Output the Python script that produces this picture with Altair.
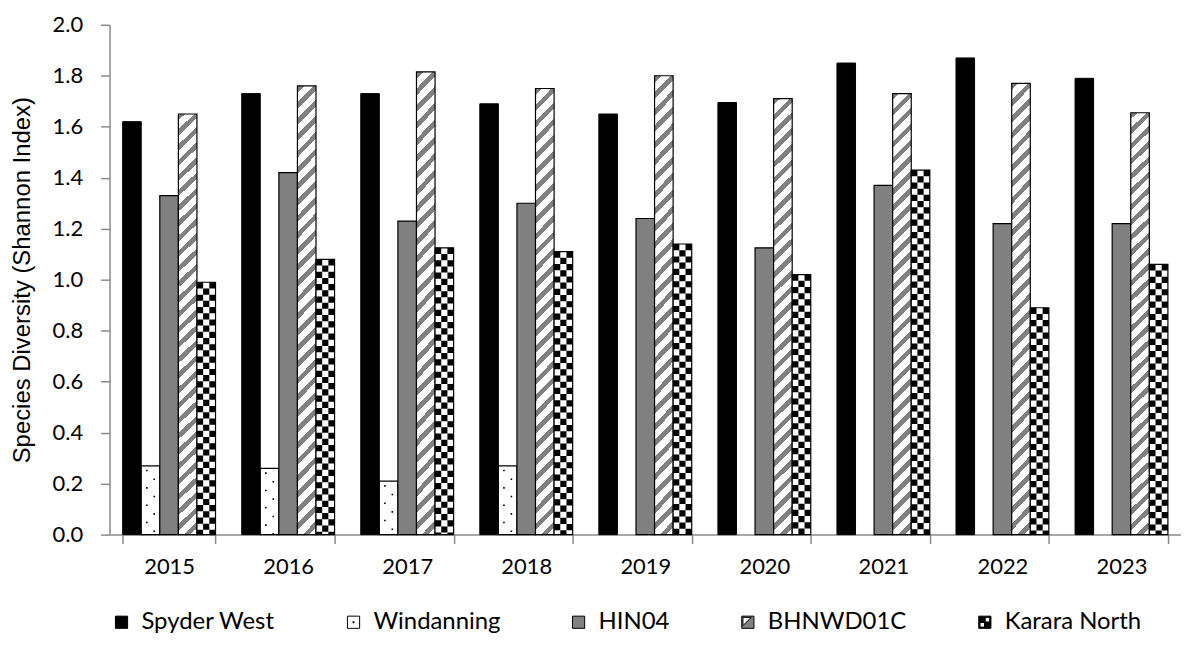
import altair as alt
import pandas as pd

years = ["2015", "2016", "2017", "2018", "2019", "2020", "2021", "2022", "2023"]
series = ["Spyder West", "Windanning", "HIN04", "BHNWD01C", "Karara North"]
spyder_west = [1.62, 1.73, 1.73, 1.69, 1.65, 1.695, 1.85, 1.87, 1.79]
windanning = [0.27, 0.26, 0.21, 0.27, None, None, None, None, None]
hin04 = [1.33, 1.42, 1.23, 1.30, 1.24, 1.125, 1.37, 1.22, 1.22]
bhnwd01c = [1.65, 1.76, 1.815, 1.75, 1.80, 1.71, 1.73, 1.77, 1.655]
karara_north = [0.99, 1.08, 1.125, 1.11, 1.14, 1.02, 1.43, 0.89, 1.06]
y_ticks = [0.0, 0.2, 0.4, 0.6, 0.8, 1.0, 1.2, 1.4, 1.6, 1.8, 2.0]

values_by_series = [spyder_west, windanning, hin04, bhnwd01c, karara_north]
rows = []
for name, vals in zip(series, values_by_series):
    for yr, v in zip(years, vals):
        if v is not None:
            rows.append({"year": yr, "series": name, "value": v})
df = pd.DataFrame(rows)

W, H = 1076, 512
PAD_IN = 0.22
step = W / len(years)
bar_w = step * (1 - PAD_IN) / len(series)

GRAY = "#808080"
AXIS_GRAY = "#8a8a8a"
TICK_FONT = "Lato"
LEG_FONT = "Lato"

# diagonal stripe gradient (style only)
h_typ = 1.73 * H / 2.0
c = (bar_w + h_typ) / (bar_w ** 2 + h_typ ** 2)
period = 16.0
n_per = (bar_w + h_typ) / period
stops = []
k = 0
while k / n_per < 1:
    a = k / n_per
    b = min((k + 0.42) / n_per, 1)
    e = min((k + 1) / n_per, 1)
    stops.append(alt.GradientStop(offset=a, color=GRAY))
    stops.append(alt.GradientStop(offset=b, color=GRAY))
    if b < 1:
        stops.append(alt.GradientStop(offset=b, color="white"))
        stops.append(alt.GradientStop(offset=e, color="white"))
    k += 1
stripe = alt.LinearGradient(gradient="linear", stops=stops, x1=0, y1=0,
                            x2=c * bar_w, y2=c * h_typ)

base = alt.Chart(df).encode(
    x=alt.X("year:N", sort=years,
            scale=alt.Scale(paddingInner=PAD_IN, paddingOuter=PAD_IN / 2),
            axis=alt.Axis(title=None, labelAngle=0, tickBand="extent",
                          labelFont=TICK_FONT, labelFontSize=22, labelColor="black",
                          labelPadding=13, tickSize=9, tickColor=AXIS_GRAY,
                          domainColor=AXIS_GRAY, domainWidth=1.5, tickWidth=1.5)),
    xOffset=alt.XOffset("series:N", sort=series,
                        scale=alt.Scale(domain=series, paddingInner=0, paddingOuter=0)),
    y=alt.Y("value:Q", scale=alt.Scale(domain=[0, 2]),
            axis=alt.Axis(values=y_ticks, format=".1f", grid=False,
                          title="Species Diversity (Shannon Index)",
                          titleFont="Liberation Sans", titleFontSize=24,
                          titleFontWeight="normal", titleColor="black",
                          titlePadding=18,
                          labelFont=TICK_FONT, labelFontSize=22, labelColor="black",
                          labelPadding=18, tickSize=9, tickColor=AXIS_GRAY,
                          domainColor=AXIS_GRAY, domainWidth=1.5, tickWidth=1.5)),
)


def only(name):
    return alt.datum.series == name


bars_sw = base.mark_bar(fill="black", stroke="black", strokeWidth=1).transform_filter(only("Spyder West"))
bars_wi = base.mark_bar(fill="white", stroke="black", strokeWidth=1.2).transform_filter(only("Windanning"))
bars_hi = base.mark_bar(fill=GRAY, stroke="black", strokeWidth=1.2).transform_filter(only("HIN04"))
bars_bh = base.mark_bar(fill=stripe, stroke="black", strokeWidth=1.2).transform_filter(only("BHNWD01C"))
bars_ka = base.mark_bar(fill="white", stroke="black", strokeWidth=1.2).transform_filter(only("Karara North"))


def slot_layer(name, n_slots, slot_idx, **mark_kw):
    dom = [f"{s}#{i}" for s in series for i in range(n_slots)]
    return (base.mark_rule(color="black", strokeCap="butt", **mark_kw)
            .encode(y2=alt.datum(0),
                    xOffset=alt.XOffset("slot:N",
                                        scale=alt.Scale(domain=dom, paddingInner=0,
                                                        paddingOuter=0)))
            .transform_filter(only(name))
            .transform_calculate(slot=f"datum.series + '#{slot_idx}'"))


# dotted pattern (Windanning)
dot_gap = 8.7
dots = [
    slot_layer("Windanning", 5, 1, strokeWidth=1.6,
               strokeDash=[1.6, 2 * dot_gap - 1.6], strokeDashOffset=2 * dot_gap - 4),
    slot_layer("Windanning", 5, 3, strokeWidth=1.6,
               strokeDash=[1.6, 2 * dot_gap - 1.6], strokeDashOffset=dot_gap - 4),
]

# checkerboard (Karara North)
sq = bar_w / 3
checks = [
    slot_layer("Karara North", 3, i, strokeWidth=sq, strokeDash=[sq, sq],
               strokeDashOffset=(sq if i == 1 else 0))
    for i in range(3)
]

# legend carrier
sym_square = "M-1,-1H1V1H-1Z"
sym_dot = "M-1,-1H1V1H-1Z M-0.1,-0.1H0.1V0.1H-0.1Z"
sym_stripe = "M-1,-1H1V1H-1Z M-0.8,-0.8V0.55L0.55,-0.8Z"
sym_check = "M-1,-1H1V1H-1Z M0.05,-0.8V-0.05H0.8V-0.8Z M-0.8,0.05V0.8H-0.05V0.05Z"
legend_colors = ["black", "white", GRAY, GRAY, "black"]
legend_shapes = [sym_square, sym_dot, sym_square, sym_stripe, sym_check]
leg = dict(title=None, orient="bottom", direction="horizontal",
           labelFont=LEG_FONT, labelFontSize=24, labelColor="black",
           symbolSize=150, symbolStrokeWidth=1, symbolStrokeColor="black",
           labelOffset=8, columnPadding=66, offset=33)
legend_layer = base.mark_point(filled=True, size=150, opacity=1, stroke="black",
                               strokeWidth=1).encode(
    color=alt.Color("series:N", sort=series,
                    scale=alt.Scale(domain=series, range=legend_colors),
                    legend=alt.Legend(**leg)),
    shape=alt.Shape("series:N", sort=series,
                    scale=alt.Scale(domain=series, range=legend_shapes),
                    legend=alt.Legend(**leg)),
).transform_filter("false")

chart = alt.layer(
    bars_sw, bars_wi, bars_hi, bars_bh, bars_ka, *dots, *checks, legend_layer
).resolve_scale(
    xOffset="independent"
).properties(
    width=W, height=H,
    autosize=alt.AutoSizeParams(type="none"),
    padding={"left": 102, "top": 15.5, "right": 0, "bottom": 110},
).configure_view(stroke=None)

chart.save("out.html", embed_options={"renderer": "svg", "actions": False})
